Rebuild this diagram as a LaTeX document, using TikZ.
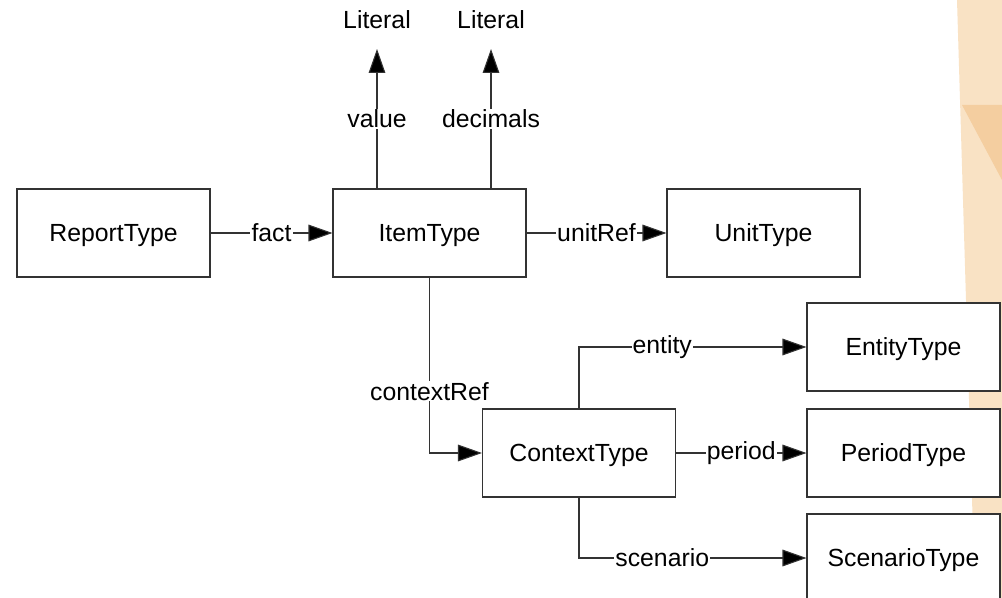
\documentclass[tikz,border=0pt]{standalone}
\usepackage{fontspec}
\setmainfont{Liberation Sans}
\usepackage{tikz}
\usetikzlibrary{arrows.meta}

\definecolor{peach}{RGB}{249,226,196}
\definecolor{peachdark}{RGB}{244,206,160}

\begin{document}
\begin{tikzpicture}[x=0.75pt,y=-0.75pt,
  every node/.style={font=\fontsize{18.6}{22}\selectfont},
  box/.style={draw=black!80,line width=0.8pt,fill=white,minimum width=144.75pt,minimum height=66pt,text depth=0pt},
  lbl/.style={fill=white,inner sep=0.8pt},
  arr/.style={-{Triangle[length=18pt,width=12.5pt,fill=black]},draw=black!80,line width=0.8pt}]
\useasboundingbox (0,0) rectangle (1002,598);
\fill[white] (0,0) rectangle (1002,598);
\fill[peach] (957,0) -- (1002,0) -- (1002,598) -- (975,598) -- (966,300) -- cycle;
\fill[peachdark] (962,105) -- (1002,105) -- (1002,180) -- cycle;

\node[box] (report) at (113.5,233) {ReportType};
\node[box] (item) at (429.5,233) {ItemType};
\node[box] (unit) at (763.5,233) {UnitType};
\node[box] (context) at (579,453) {ContextType};
\node[box] (entity) at (903.5,347) {EntityType};
\node[box] (period) at (903.5,453) {PeriodType};
\node[box] (scenario) at (903.5,558) {ScenarioType};

\node[anchor=south,inner xsep=0pt,inner ysep=15pt,text depth=0pt] (lit1) at (377,49) {Literal};
\node[anchor=south,inner xsep=0pt,inner ysep=15pt,text depth=0pt] (lit2) at (491,49) {Literal};

\draw[arr] (report) -- node[lbl] {fact} (item);
\draw[arr] (item) -- node[lbl] {unitRef} (unit);
\draw[arr] (item.north -| lit1) -- node[lbl] {value} (lit1);
\draw[arr] (item.north -| lit2) -- node[lbl] {decimals} (lit2);
\draw[arr] (item.south) |- node[lbl,pos=0.324] {contextRef} (context.west);
\draw[arr] (context.north) |- node[lbl,pos=0.683] {entity} (entity.west);
\draw[arr] (context) -- node[lbl] {period} (period);
\draw[arr] (context.south) |- node[lbl,pos=0.683] {scenario} (scenario.west);

\end{tikzpicture}
\end{document}
